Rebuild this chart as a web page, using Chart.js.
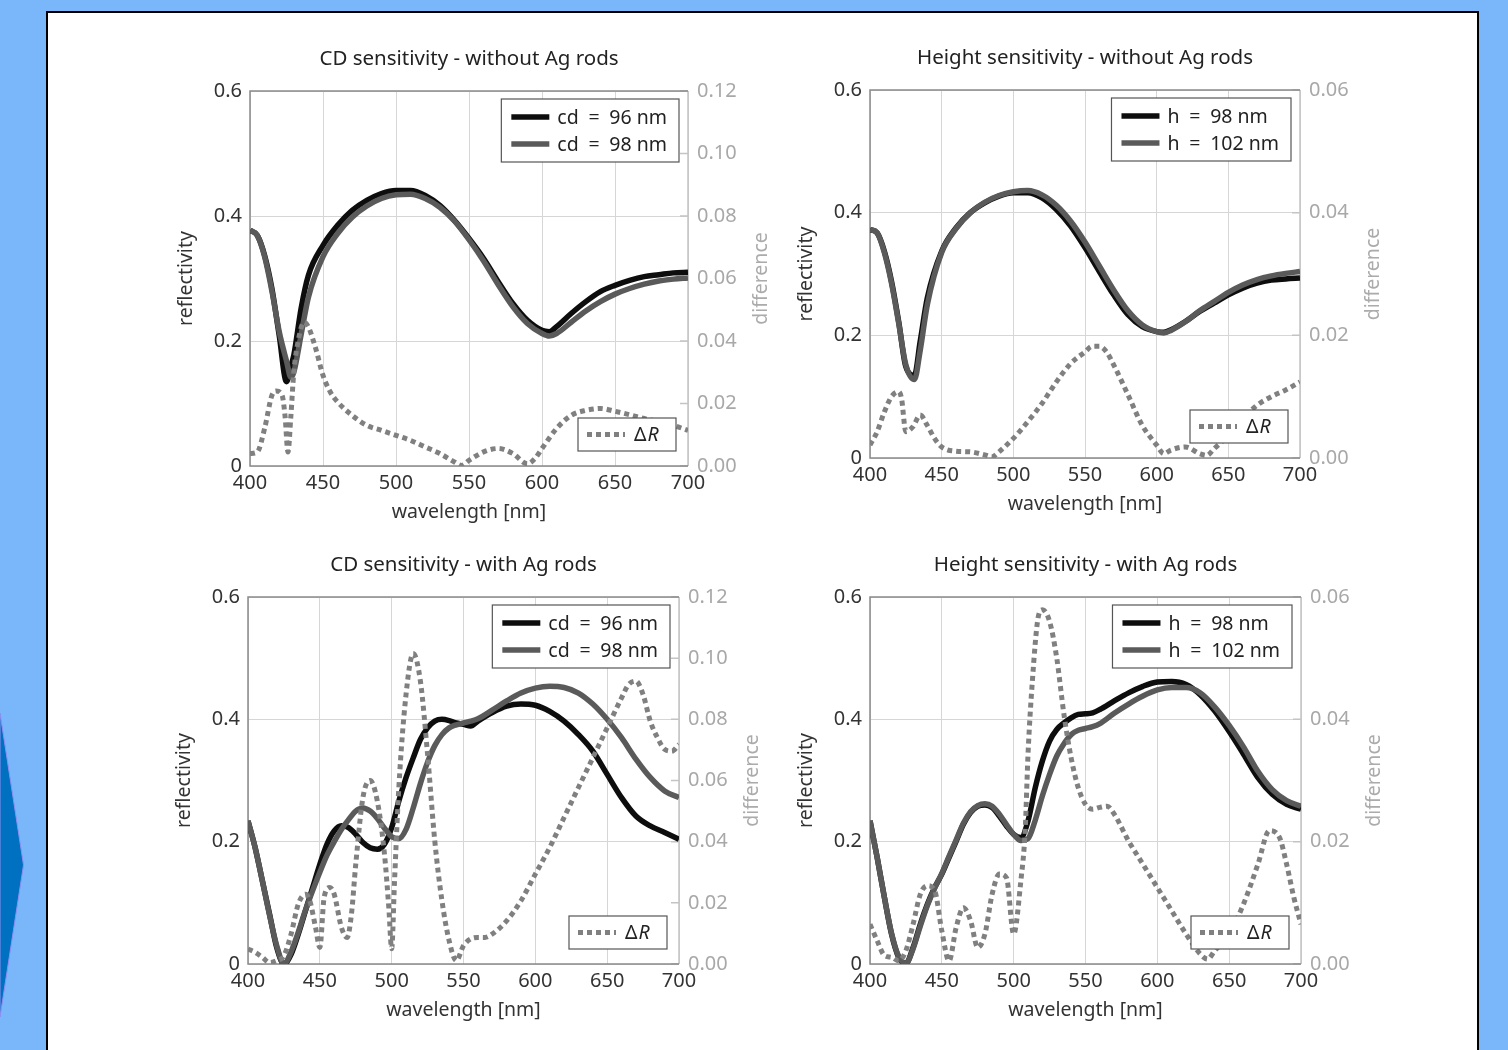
<!DOCTYPE html>
<html>
<head>
  <meta charset="utf-8">
  <title>CD and height sensitivity</title>
  <script src="https://cdn.jsdelivr.net/npm/chart.js"></script>
  <style>
    html, body {
      margin: 0;
      padding: 0;
      width: 1508px;
      height: 1050px;
      overflow: hidden;
      background-color: #79b7fa;
      font-family: 'Noto Sans', sans-serif;
    }

    .arrow {
      position: absolute;
      left: 0;
      top: 690px;
    }

    .sheet {
      position: absolute;
      left: 46px;
      top: 11px;
      width: 1433px;
      height: 1100px;
      box-sizing: border-box;
      background: white;
      border: 2px solid #000;
    }

    canvas {
      position: absolute;
    }
  </style>
</head>
<body>

<svg class="arrow" width="30" height="340">
  <polygon points="0,23 23.5,175 0,327" fill="#0070c0" stroke="#8d8ff0" stroke-width="1"/>
</svg>
<div class="sheet"></div>

<canvas id="cdNoAg"></canvas>
<canvas id="hNoAg"></canvas>
<canvas id="cdAg"></canvas>
<canvas id="hAg"></canvas>

<script>
  // ---- CD sensitivity, without Ag rods ----
  const wlCdNoAg = [400,405,410,415,420,425,428,430,435,440,450,460,470,480,490,500,510,520,530,540,
                    550,560,570,580,590,600,605,610,620,630,640,650,660,670,680,690,700];
  const cd96NoAg = [0.377,0.369,0.337,0.284,0.209,0.135,0.16,0.177,0.252,0.305,0.353,0.385,0.409,0.425,0.436,0.441,0.441,0.433,0.417,0.393,
                    0.364,0.332,0.295,0.26,0.233,0.217,0.215,0.223,0.244,0.263,0.279,0.289,0.297,0.303,0.306,0.309,0.31];
  const cd98NoAg = [0.377,0.369,0.335,0.28,0.215,0.168,0.142,0.15,0.21,0.27,0.335,0.372,0.398,0.416,0.428,0.434,0.435,0.428,0.414,0.392,
                    0.362,0.328,0.29,0.255,0.228,0.212,0.208,0.212,0.23,0.248,0.263,0.275,0.284,0.291,0.296,0.299,0.301];
  const wlDiffCdNoAg = [400,405,410,415,418,422,424,426,428,430,433,437,440,445,450,455,460,470,480,490,
                        500,510,520,530,540,545,550,560,570,580,590,595,600,610,620,630,640,650,660,670,680,690,700];
  const diffCdNoAg = [0.004,0.0045,0.012,0.0226,0.024,0.0226,0.016,0.0045,0.016,0.030,0.040,0.046,0.0445,0.0376,0.029,0.0237,0.0205,0.0162,0.013,0.0114,
                      0.0098,0.0082,0.0061,0.004,0.0013,0.0002,0.0018,0.0045,0.0056,0.004,0.0007,0.0023,0.0056,0.012,0.0162,0.0178,0.0184,0.0175,0.0164,0.0152,0.0141,0.013,0.0114];

  // ---- Height sensitivity, without Ag rods ----
  const wlHNoAg = [400,405,410,415,420,425,431,435,440,450,460,470,480,490,500,510,520,530,540,
                   550,560,570,580,590,600,605,610,620,630,640,650,660,670,680,690,700];
  const h98NoAg = [0.3725,0.367,0.337,0.288,0.2225,0.149,0.135,0.19,0.261,0.337,0.375,0.40,0.416,0.427,0.4325,0.4325,0.424,0.405,0.378,
                   0.343,0.304,0.266,0.2335,0.214,0.206,0.205,0.209,0.2225,0.239,0.2525,0.266,0.277,0.285,0.29,0.292,0.2935];
  const h102NoAg = [0.3725,0.367,0.335,0.285,0.22,0.152,0.128,0.175,0.25,0.335,0.374,0.40,0.417,0.428,0.434,0.436,0.429,0.412,0.386,
                    0.352,0.313,0.274,0.24,0.217,0.206,0.204,0.208,0.222,0.24,0.255,0.27,0.282,0.291,0.297,0.301,0.304];
  const wlDiffHNoAg = [400,405,410,415,420,422,425,430,435,440,445,450,460,470,480,485,490,500,510,520,
                       530,540,550,555,560,565,570,580,590,600,605,610,620,630,635,640,650,660,670,680,690,700];
  const diffHNoAg = [0.0021,0.0043,0.0075,0.010,0.0108,0.0097,0.0043,0.0051,0.007,0.0053,0.0032,0.0018,0.0011,0.001,0.0005,0.0002,0.001,0.0032,0.0059,0.0089,
                     0.0124,0.0154,0.0173,0.0182,0.0182,0.0173,0.0152,0.0103,0.0053,0.0021,0.0007,0.0013,0.0018,0.0007,0.0004,0.0015,0.0037,0.0064,0.0086,0.01,0.0111,0.0124];

  // ---- CD sensitivity, with Ag rods ----
  const wlCdAg = [400,405,410,415,420,425,430,435,440,445,450,455,460,465,470,475,480,485,490,495,
                  500,505,510,515,520,525,530,535,540,545,550,555,560,570,580,590,600,610,620,630,
                  640,650,660,670,680,690,700];
  const cd96Ag = [0.234,0.19,0.136,0.0816,0.027,0.0,0.016,0.049,0.087,0.125,0.163,0.196,0.2175,0.226,0.223,0.212,0.1985,0.19,0.1877,0.196,
                  0.223,0.2665,0.3046,0.337,0.367,0.386,0.397,0.40,0.398,0.394,0.392,0.389,0.397,0.411,0.4216,0.425,0.423,0.413,0.397,0.375,
                  0.348,0.31,0.272,0.242,0.2257,0.215,0.204];
  const cd98Ag = [0.234,0.19,0.136,0.08,0.03,0.0,0.02,0.052,0.088,0.12,0.15,0.178,0.2,0.22,0.236,0.25,0.255,0.25,0.238,0.222,
                  0.208,0.205,0.22,0.255,0.295,0.33,0.357,0.375,0.386,0.391,0.394,0.397,0.401,0.415,0.43,0.443,0.451,0.454,0.452,0.443,
                  0.425,0.4,0.37,0.335,0.305,0.283,0.272];
  const wlDiffCdAg = [400,405,410,415,420,425,430,435,440,443,447,450,453,457,460,465,469,472,475,480,
                      485,490,495,498,500,502,505,510,515,520,525,530,535,540,545,550,555,560,565,570,
                      580,590,600,610,620,630,640,650,660,665,670,675,680,685,690,695,700];
  const diffCdAg = [0.0049,0.0038,0.0022,0.0005,0.0011,0.0027,0.0098,0.0196,0.0228,0.0207,0.012,0.0054,0.0218,0.025,0.0228,0.012,0.0087,0.0163,0.0326,0.0544,
                    0.06,0.0533,0.0359,0.0185,0.005,0.0272,0.0577,0.0881,0.1015,0.0925,0.0685,0.0403,0.0207,0.0076,0.0011,0.006,0.0082,0.0087,0.0087,0.0098,
                    0.0141,0.0207,0.0294,0.0381,0.0479,0.0577,0.0674,0.0772,0.087,0.0914,0.0925,0.0881,0.0794,0.074,0.0702,0.0696,0.0718];

  // ---- Height sensitivity, with Ag rods ----
  const wlHAg = wlCdAg;
  const h98Ag = [0.234,0.174,0.109,0.049,0.011,0.001,0.027,0.065,0.098,0.125,0.147,0.174,0.201,0.2285,0.2475,0.258,0.26,0.2557,0.242,0.2257,
                 0.212,0.2067,0.234,0.288,0.332,0.3645,0.3835,0.394,0.4025,0.408,0.409,0.4107,0.416,0.43,0.4433,0.454,0.461,0.462,0.457,0.44,
                 0.4134,0.38,0.343,0.3046,0.2774,0.261,0.253];
  const h102Ag = [0.234,0.174,0.109,0.05,0.012,0.001,0.025,0.062,0.096,0.124,0.148,0.176,0.203,0.23,0.249,0.259,0.262,0.258,0.245,0.228,
                  0.212,0.202,0.205,0.235,0.275,0.31,0.34,0.36,0.375,0.382,0.385,0.388,0.393,0.41,0.425,0.438,0.448,0.452,0.452,0.443,
                  0.42,0.39,0.355,0.315,0.285,0.267,0.258];
  const wlDiffHAg = [400,405,410,415,420,425,430,435,440,445,450,455,460,465,470,475,480,485,490,495,
                     500,505,508,510,513,517,520,525,530,535,540,545,550,555,560,565,570,580,590,600,
                     610,620,630,635,640,650,660,670,678,685,690,695,700];
  const diffHAg = [0.0065,0.0038,0.0014,0.0011,0.0005,0.0022,0.0065,0.0114,0.0128,0.012,0.0054,0.0005,0.006,0.0092,0.0071,0.0027,0.0049,0.0114,0.0147,0.0141,
                   0.0049,0.0136,0.0218,0.0343,0.0462,0.0566,0.0579,0.056,0.05,0.0408,0.0337,0.0288,0.0261,0.0253,0.0256,0.0258,0.0245,0.0201,0.0163,0.0125,
                   0.0087,0.0049,0.0016,0.0008,0.0022,0.0049,0.0098,0.0163,0.0218,0.0207,0.0163,0.0109,0.0065];

  const FONT = "'Noto Sans', sans-serif";

  function pts(xs, ys) {
    return xs.map((x, i) => ({ x: x, y: ys[i] }));
  }

  // white legend boxes inside the plot, like the pgfplots original
  const boxLegend = {
    id: 'boxLegend',
    afterDatasetsDraw(chart) {
      const { ctx, chartArea: a } = chart;
      const ds = chart.data.datasets;
      // math-style spacing round the "=" sign
      const show = s => s.replace(' = ', '\u2002=\u2002');
      ctx.save();
      ctx.font = '19.5px ' + FONT;
      ctx.textBaseline = 'middle';

      // upper box: the two reflectivity curves
      const tw = Math.max(ctx.measureText(show(ds[0].label)).width, ctx.measureText(show(ds[1].label)).width);
      const w = 10 + 38 + 8 + tw + 12, h = 63;
      const x = a.right - 9 - w, y = a.top + 8;
      ctx.fillStyle = '#fff';
      ctx.fillRect(x, y, w, h);
      ctx.strokeStyle = '#555';
      ctx.lineWidth = 1.2;
      ctx.strokeRect(x, y, w, h);
      [ds[0], ds[1]].forEach((d, i) => {
        const ly = y + 18 + i * 27;
        ctx.beginPath();
        ctx.strokeStyle = d.borderColor;
        ctx.lineWidth = d.borderWidth;
        ctx.moveTo(x + 10, ly);
        ctx.lineTo(x + 48, ly);
        ctx.stroke();
        ctx.fillStyle = '#222';
        ctx.fillText(show(d.label), x + 56, ly + 1);
      });

      // lower box: the difference curve
      const d = ds[2];
      const w2 = 98, h2 = 33;
      const x2 = a.right - 12 - w2, y2 = a.bottom - 15 - h2;
      ctx.fillStyle = '#fff';
      ctx.fillRect(x2, y2, w2, h2);
      ctx.strokeStyle = '#555';
      ctx.lineWidth = 1.2;
      ctx.strokeRect(x2, y2, w2, h2);
      ctx.beginPath();
      ctx.setLineDash(d.borderDash);
      ctx.strokeStyle = d.borderColor;
      ctx.lineWidth = d.borderWidth;
      ctx.moveTo(x2 + 9, y2 + h2 / 2);
      ctx.lineTo(x2 + 47, y2 + h2 / 2);
      ctx.stroke();
      ctx.setLineDash([]);
      ctx.fillStyle = '#222';
      const head = d.label.slice(0, 1), tail = d.label.slice(1);
      ctx.fillText(head, x2 + 56, y2 + h2 / 2 + 1);
      const hw = ctx.measureText(head).width;
      ctx.font = 'italic 19.5px ' + FONT;
      ctx.fillText(tail, x2 + 56 + hw + 1, y2 + h2 / 2 + 1);
      ctx.restore();
    }
  };

  // plot frame, inward ticks of the right axis and its rotated title
  const frame = {
    id: 'frame',
    beforeDatasetsDraw(chart) {
      const { ctx, chartArea: a } = chart;
      const r = chart.scales.y2;
      ctx.save();
      ctx.lineWidth = 1.5;
      ctx.strokeStyle = '#c4c4c4';
      ctx.beginPath();
      ctx.moveTo(a.right, a.top);
      ctx.lineTo(a.right, a.bottom);
      r.ticks.forEach(t => {
        const ty = r.getPixelForValue(t.value);
        ctx.moveTo(a.right - 8, ty);
        ctx.lineTo(a.right, ty);
      });
      ctx.stroke();
      ctx.strokeStyle = '#8a8a8a';
      ctx.beginPath();
      ctx.moveTo(a.right, a.top);
      ctx.lineTo(a.left, a.top);
      ctx.lineTo(a.left, a.bottom);
      ctx.lineTo(a.right, a.bottom);
      ctx.stroke();
      ctx.restore();
    },
    afterDraw(chart) {
      const { ctx, chartArea: a } = chart;
      const t = chart.options.scales.y2.title;
      ctx.save();
      ctx.translate(a.right + 73, (a.top + a.bottom) / 2);
      ctx.rotate(-Math.PI / 2);
      ctx.font = '19.5px ' + FONT;
      ctx.fillStyle = '#ababab';
      ctx.textAlign = 'center';
      ctx.textBaseline = 'middle';
      ctx.fillText(t.text, 0, 0);
      ctx.restore();
    }
  };

  function drawPanel(id, box, title, labels, series, diffMax) {
    const cv = document.getElementById(id);
    cv.width = box.w;
    cv.height = box.h;
    cv.style.left = box.left + 'px';
    cv.style.top = box.top + 'px';

    const tickFont = { family: FONT, size: 20 };
    const titleFont = { family: FONT, size: 19.5 };

    new Chart(cv.getContext('2d'), {
      type: 'line',
      data: {
        datasets: [
          {
            label: labels[0],
            data: series[0],
            borderColor: '#0d0d0d',
            borderWidth: 5.5,
            order: 2
          },
          {
            label: labels[1],
            data: series[1],
            borderColor: '#5a5a5a',
            borderWidth: 5.5,
            order: 1
          },
          {
            label: 'ΔR',
            data: series[2],
            borderColor: '#808080',
            borderWidth: 5,
            borderDash: [5, 4],
            yAxisID: 'y2',
            order: 0
          }
        ]
      },
      options: {
        responsive: false,
        animation: false,
        events: [],
        layout: { padding: 0 },
        elements: {
          point: { radius: 0 },
          line: { tension: 0.4, cubicInterpolationMode: 'monotone', fill: false }
        },
        plugins: {
          legend: { display: false },
          tooltip: { enabled: false },
          title: {
            display: true,
            text: title,
            color: '#222',
            font: { family: FONT, size: 20.5, weight: 'normal' },
            padding: { top: 6.7, bottom: 19.7 }
          }
        },
        scales: {
          x: {
            type: 'linear',
            min: 400,
            max: 700,
            ticks: { stepSize: 50, padding: 5, color: '#333', font: tickFont, maxRotation: 0 },
            grid: { color: '#d6d6d6', drawTicks: false },
            border: { display: false },
            title: { display: true, text: 'wavelength [nm]', color: '#333', font: titleFont, padding: 0 },
            afterFit: s => { s.height = 58; }
          },
          y: {
            position: 'left',
            min: 0,
            max: 0.6,
            ticks: {
              stepSize: 0.2, padding: 8, color: '#333', font: tickFont,
              callback: v => v === 0 ? '0' : v.toFixed(1)
            },
            grid: { color: '#d6d6d6', drawTicks: false },
            border: { display: false },
            title: { display: true, text: 'reflectivity', color: '#333', font: titleFont, padding: 15 },
            afterFit: s => { s.width = 90; }
          },
          y2: {
            position: 'right',
            min: 0,
            max: diffMax,
            ticks: {
              stepSize: 0.02, padding: 9, color: '#a8a8a8', font: tickFont,
              callback: v => v.toFixed(2)
            },
            grid: { display: false, drawTicks: false },
            border: { display: false },
            title: { display: false, text: 'difference' },
            afterFit: s => { s.width = 90; }
          }
        }
      },
      plugins: [frame, boxLegend]
    });
  }

  drawPanel('cdNoAg', { left: 160, top: 40, w: 618, h: 484 },
    'CD sensitivity - without Ag rods', ['cd = 96 nm', 'cd = 98 nm'],
    [pts(wlCdNoAg, cd96NoAg), pts(wlCdNoAg, cd98NoAg), pts(wlDiffCdNoAg, diffCdNoAg)], 0.12);

  drawPanel('hNoAg', { left: 780, top: 39, w: 610, h: 477 },
    'Height sensitivity - without Ag rods', ['h = 98 nm', 'h = 102 nm'],
    [pts(wlHNoAg, h98NoAg), pts(wlHNoAg, h102NoAg), pts(wlDiffHNoAg, diffHNoAg)], 0.06);

  drawPanel('cdAg', { left: 158, top: 546, w: 611, h: 476 },
    'CD sensitivity - with Ag rods', ['cd = 96 nm', 'cd = 98 nm'],
    [pts(wlCdAg, cd96Ag), pts(wlCdAg, cd98Ag), pts(wlDiffCdAg, diffCdAg)], 0.12);

  drawPanel('hAg', { left: 780, top: 546, w: 611, h: 476 },
    'Height sensitivity - with Ag rods', ['h = 98 nm', 'h = 102 nm'],
    [pts(wlHAg, h98Ag), pts(wlHAg, h102Ag), pts(wlDiffHAg, diffHAg)], 0.06);
</script>

</body>
</html>
